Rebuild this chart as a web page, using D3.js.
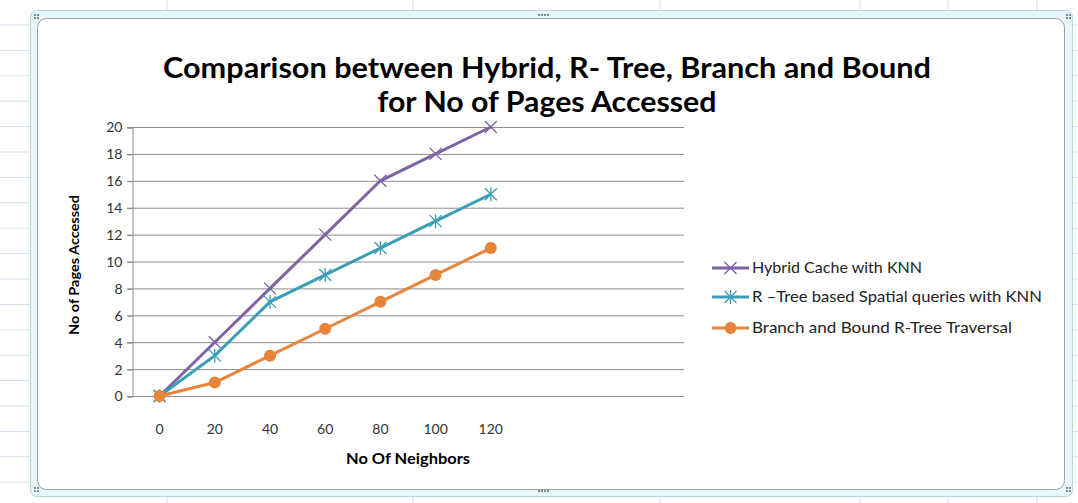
<!DOCTYPE html>
<html>
<head>
<meta charset="utf-8">
<script src="https://cdn.jsdelivr.net/npm/d3@7"></script>
<style>
  body { margin: 0; background: #fff; }
  svg { display: block; font-family: Lato, "Open Sans", sans-serif; }
</style>
</head>
<body>
<svg id="chart" width="1078" height="503"></svg>
<script>
// chart data
var categories = ["0", "20", "40", "60", "80", "100", "120", "", " ", "  "];
var hybrid = [0, 4, 8, 12, 16, 18, 20];
var rtree = [0, 3, 7, 9, 11, 13, 15];
var branch = [0, 1, 3, 5, 7, 9, 11];
var yTicks = [0, 2, 4, 6, 8, 10, 12, 14, 16, 18, 20];
var seriesNames = ["Hybrid Cache with  KNN", "R \u2013Tree based  Spatial  queries with  KNN", "Branch and Bound  R-Tree Traversal"];
var seriesColors = ["#7f63a2", "#3c9db6", "#e6853a"];
var seriesMarks = ["x", "star", "circle"];

var svg = d3.select("#chart");
var W = 1078, H = 503;

// spreadsheet cells behind the chart
var cellLines = svg.append("g").attr("stroke", "#d5dcea").attr("stroke-width", 1);
d3.range(25, 503, 25.4).forEach(function(yy) {
  cellLines.append("line").attr("x1", 0).attr("x2", W).attr("y1", yy).attr("y2", yy);
});
[167, 413, 660, 860, 948, 1037].forEach(function(xx) {
  cellLines.append("line").attr("x1", xx).attr("x2", xx).attr("y1", 0).attr("y2", H);
});

// selection frame
svg.append("rect").attr("x", 30.5).attr("y", 10.5).attr("width", 1042).attr("height", 486)
  .attr("rx", 6).attr("fill", "#e6f6f9").attr("stroke", "#b8d7de");
svg.append("rect").attr("x", 37.5).attr("y", 18.5).attr("width", 1027).attr("height", 471)
  .attr("rx", 9).attr("fill", "#fff").attr("stroke", "#a0a0a0");
// little grip dots
function dots(px, py, n) {
  for (var i = 0; i < n; i++) {
    svg.append("rect").attr("x", px + i * 3).attr("y", py).attr("width", 2).attr("height", 2).attr("fill", "#7c8a90");
  }
}
dots(34, 14, 2); dots(34, 17, 2); dots(1066, 14, 2); dots(1066, 17, 2);
dots(34, 487, 2); dots(34, 490, 2); dots(1066, 487, 2); dots(1066, 490, 2);
dots(538, 14, 4); dots(538, 490, 4);

// title
var title = svg.append("text").attr("text-anchor", "middle")
  .attr("font-weight", "bold").attr("font-size", 29).attr("fill", "#000");
title.append("tspan").attr("x", 547).attr("y", 78).attr("textLength", 768)
  .attr("lengthAdjust", "spacingAndGlyphs").text("Comparison between Hybrid, R- Tree, Branch and Bound");
title.append("tspan").attr("x", 547).attr("y", 112).attr("textLength", 339)
  .attr("lengthAdjust", "spacingAndGlyphs").text("for No of Pages Accessed");

// plot area
var plotL = 132, plotR = 684, plotT = 127, plotB = 396;
var x = d3.scaleBand().domain(categories).range([plotL, plotR]);
var y = d3.scaleLinear().domain([0, 20]).range([plotB, plotT]);

// gridlines
svg.append("g").selectAll("line").data(yTicks).enter().append("line")
  .attr("x1", plotL - 5).attr("x2", plotR)
  .attr("y1", function(d) { return y(d) + 0.5; })
  .attr("y2", function(d) { return y(d) + 0.5; })
  .attr("stroke", "#8c8c8c").attr("stroke-width", 1);

// y axis
var yAxis = svg.append("g").attr("transform", "translate(" + (plotL + 0.5) + ",0.5)")
  .call(d3.axisLeft(y).tickValues(yTicks).tickSize(5).tickPadding(5));
yAxis.select(".domain").attr("stroke", "#8c8c8c");
yAxis.selectAll(".tick line").attr("stroke", "#8c8c8c");
yAxis.selectAll("text").attr("font-size", 14).attr("fill", "#333").attr("font-family", "Lato, sans-serif");

// x axis labels only (no line)
var xAxis = svg.append("g").attr("transform", "translate(0," + (plotB + 20) + ")")
  .call(d3.axisBottom(x).tickSize(0).tickPadding(8));
xAxis.select(".domain").remove();
xAxis.selectAll("text").attr("font-size", 14).attr("fill", "#333").attr("font-family", "Lato, sans-serif");

// axis titles
svg.append("text").attr("transform", "translate(79,265) rotate(-90)")
  .attr("text-anchor", "middle").attr("font-weight", "bold").attr("font-size", 14)
  .attr("textLength", 140).attr("lengthAdjust", "spacingAndGlyphs")
  .text("No of Pages Accessed");
svg.append("text").attr("x", 408).attr("y", 464)
  .attr("text-anchor", "middle").attr("font-weight", "bold").attr("font-size", 15)
  .attr("textLength", 124).attr("lengthAdjust", "spacingAndGlyphs")
  .text("No Of Neighbors");

// series
var allSeries = [hybrid, rtree, branch];
var line = d3.line()
  .x(function(d, i) { return x(categories[i]) + x.bandwidth() / 2; })
  .y(function(d) { return y(d); });

function drawMark(g, kind, color, cx, cy) {
  if (kind === "circle") {
    g.append("circle").attr("cx", cx).attr("cy", cy).attr("r", 6).attr("fill", color);
  } else {
    var s = 6;
    g.append("path").attr("d", "M" + (cx - s) + "," + (cy - s) + "L" + (cx + s) + "," + (cy + s) +
      "M" + (cx - s) + "," + (cy + s) + "L" + (cx + s) + "," + (cy - s))
      .attr("stroke", color).attr("stroke-width", 1.3).attr("fill", "none");
    if (kind === "star") {
      g.append("path").attr("d", "M" + cx + "," + (cy - s - 1) + "L" + cx + "," + (cy + s + 1))
        .attr("stroke", color).attr("stroke-width", 1.3);
    }
  }
}

allSeries.forEach(function(vals, k) {
  var g = svg.append("g");
  g.append("path").datum(vals).attr("d", line)
    .attr("fill", "none").attr("stroke", seriesColors[k]).attr("stroke-width", 3)
    .attr("stroke-linejoin", "round");
  vals.forEach(function(v, i) {
    drawMark(g, seriesMarks[k], seriesColors[k], x(categories[i]) + x.bandwidth() / 2, y(v));
  });
});

// legend
var legendY = [268, 297, 328];
var legendLen = [170, 290, 260];
seriesNames.forEach(function(name, k) {
  var g = svg.append("g");
  g.append("line").attr("x1", 712).attr("x2", 749).attr("y1", legendY[k]).attr("y2", legendY[k])
    .attr("stroke", seriesColors[k]).attr("stroke-width", 3);
  drawMark(g, seriesMarks[k], seriesColors[k], 730.5, legendY[k]);
  g.append("text").attr("x", 752).attr("y", legendY[k] + 5).attr("font-size", 15)
    .attr("textLength", legendLen[k]).attr("lengthAdjust", "spacingAndGlyphs")
    .attr("fill", "#222").text(name);
});
</script>
</body>
</html>
